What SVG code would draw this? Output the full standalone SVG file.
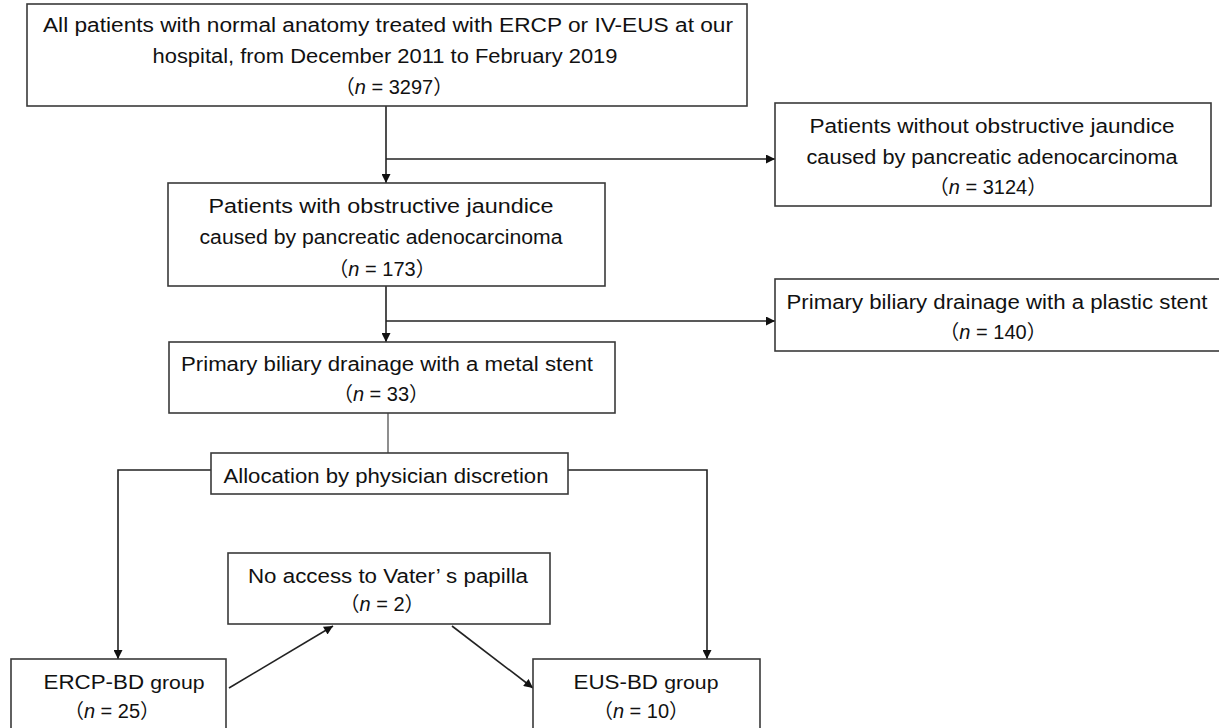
<svg xmlns="http://www.w3.org/2000/svg" width="1219" height="728" viewBox="0 0 1219 728">
<defs>
<style>
.box{fill:#fff;stroke:#3a3a3a;stroke-width:1.6}
.ln{fill:none;stroke:#222;stroke-width:1.6}
.ln1{fill:none;stroke:#444;stroke-width:1.2}
text{font-family:"Liberation Sans","Noto Sans CJK JP",sans-serif;font-size:20px;fill:#111;text-anchor:middle}
.i{font-style:italic}
.sm{font-size:19px}
</style>
<marker id="ah" viewBox="0 0 10 10" refX="10" refY="5" markerWidth="10" markerHeight="9" markerUnits="userSpaceOnUse" orient="auto">
<path d="M0,0 L10,5 L0,10 z" fill="#111"/>
</marker>
</defs>
<rect width="1219" height="728" fill="#fff"/>

<g id="connectors">
<path class="ln" d="M386,106 V183" marker-end="url(#ah)"/>
<path class="ln" d="M386,159 H775" marker-end="url(#ah)"/>
<path class="ln" d="M386,286 V342" marker-end="url(#ah)"/>
<path class="ln" d="M386,321 H775" marker-end="url(#ah)"/>
<path class="ln1" d="M388,413 V453"/>
<path class="ln" d="M211,470 H118 V659" marker-end="url(#ah)"/>
<path class="ln" d="M568,470 H707 V659" marker-end="url(#ah)"/>
<path class="ln" d="M229,688 L333,626" marker-end="url(#ah)"/>
<path class="ln" d="M452,626 L533,688" marker-end="url(#ah)"/>
</g>

<g id="n1">
<rect class="box" x="27" y="4" width="720" height="102"/>
<text x="388" y="32" textLength="690" lengthAdjust="spacingAndGlyphs">All patients with normal anatomy treated with ERCP or IV-EUS at our</text>
<text x="385" y="63" textLength="465" lengthAdjust="spacingAndGlyphs">hospital, from December 2011 to February 2019</text>
<text x="394" y="94">（<tspan class="i">n</tspan> = 3297）</text>
</g>

<g id="n2">
<rect class="box" x="775" y="103" width="436" height="103"/>
<text x="992" y="133" textLength="365" lengthAdjust="spacingAndGlyphs">Patients without obstructive jaundice</text>
<text x="992" y="164" textLength="371" lengthAdjust="spacingAndGlyphs">caused by pancreatic adenocarcinoma</text>
<text x="988" y="194">（<tspan class="i">n</tspan> = 3124）</text>
</g>

<g id="n3">
<rect class="box" x="168" y="183" width="437" height="103"/>
<text x="381" y="213" textLength="345" lengthAdjust="spacingAndGlyphs">Patients with obstructive jaundice</text>
<text x="381" y="244" textLength="363" lengthAdjust="spacingAndGlyphs">caused by pancreatic adenocarcinoma</text>
<text x="382" y="276">（<tspan class="i">n</tspan> = 173）</text>
</g>

<g id="n4">
<rect class="box" x="775" y="279" width="446" height="72"/>
<text x="997" y="309" textLength="421" lengthAdjust="spacingAndGlyphs">Primary biliary drainage with a plastic stent</text>
<text x="993" y="339">（<tspan class="i">n</tspan> = 140）</text>
</g>

<g id="n5">
<rect class="box" x="169" y="342" width="446" height="71"/>
<text x="387" y="371" textLength="412" lengthAdjust="spacingAndGlyphs">Primary biliary drainage with a metal stent</text>
<text x="381" y="401">（<tspan class="i">n</tspan> = 33）</text>
</g>

<g id="n6">
<rect class="box" x="211" y="453" width="357" height="41"/>
<text x="386" y="483" textLength="325" lengthAdjust="spacingAndGlyphs">Allocation by physician discretion</text>
</g>

<g id="n7">
<rect class="box" x="228" y="553" width="322" height="71"/>
<text x="388" y="583" textLength="280" lengthAdjust="spacingAndGlyphs">No access to Vater’ s papilla</text>
<text x="382" y="611">（<tspan class="i">n</tspan> = 2）</text>
</g>

<g id="n8">
<rect class="box" x="11" y="659" width="215" height="90"/>
<text x="124" y="689" textLength="161" lengthAdjust="spacingAndGlyphs">ERCP-BD <tspan class="sm">group</tspan></text>
<text x="112" y="718">（<tspan class="i">n</tspan> = 25）</text>
</g>

<g id="n9">
<rect class="box" x="533" y="659" width="227" height="90"/>
<text x="646" y="689" textLength="145" lengthAdjust="spacingAndGlyphs">EUS-BD <tspan class="sm">group</tspan></text>
<text x="641" y="718">（<tspan class="i">n</tspan> = 10）</text>
</g>
</svg>
